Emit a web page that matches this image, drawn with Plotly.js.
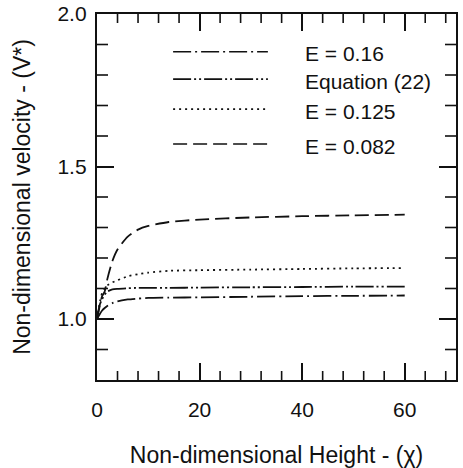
<!DOCTYPE html>
<html>
<head>
<meta charset="utf-8">
<script src="https://cdn.plot.ly/plotly-3.0.1.min.js"></script>
<style>html,body{margin:0;padding:0;background:#fff;}#chart{width:463px;height:468px;}</style>
</head>
<body>
<div id="chart"></div>
<script>
// Non-dimensional height (chi)
const heights = [0, 0.5, 1, 1.5, 2, 3, 4, 6, 8, 10, 14, 20, 30, 40, 50, 60];
// Non-dimensional velocity V*
const vE016  = [1.0, 1.015, 1.028, 1.036, 1.043, 1.052, 1.058, 1.064, 1.067, 1.069, 1.070, 1.071, 1.073, 1.075, 1.076, 1.077];
const vEq22  = [1.0, 1.045, 1.065, 1.080, 1.090, 1.097, 1.099, 1.101, 1.102, 1.102, 1.102, 1.103, 1.104, 1.105, 1.106, 1.106];
const vE0125 = [1.0, 1.050, 1.085, 1.100, 1.110, 1.120, 1.127, 1.140, 1.147, 1.152, 1.158, 1.160, 1.162, 1.164, 1.166, 1.167];
const vE0082 = [1.0, 1.040, 1.075, 1.090, 1.130, 1.190, 1.228, 1.270, 1.293, 1.305, 1.318, 1.326, 1.333, 1.337, 1.340, 1.342];

const seriesNames = ["E = 0.16", "Equation (22)", "E = 0.125", "E = 0.082"];
const seriesValues = [vE016, vEq22, vE0125, vE0082];
const xTickVals = [0, 20, 40, 60];
const xTickText = ["0", "20", "40", "60"];
const xMinorVals = [4, 8, 12, 16, 24, 28, 32, 36, 44, 48, 52, 56, 64, 68];
const yTickVals = [1.0, 1.5, 2.0];
const yTickText = ["1.0", "1.5", "2.0"];
const yMinorVals = [0.9, 1.1, 1.2, 1.3, 1.4, 1.6, 1.7, 1.8, 1.9];

const dashes = ["18px,4px,2px,4px", "18px,3px,2px,3px,2px,3px", "2px,4px", "14px,6px"];
const FONT = "Liberation Sans, Arial, Helvetica, sans-serif";
const W = 463, H = 468, M = {l: 97, r: 7, t: 14, b: 88};
const X_RANGE = [0, 70];
const Y_RANGE = [0.8, 2.0];
const PX_PER_X = (W - M.l - M.r) / (X_RANGE[1] - X_RANGE[0]);
const PX_PER_Y = (H - M.t - M.b) / (Y_RANGE[1] - Y_RANGE[0]);

const traces = seriesValues.map((v, i) => ({
  x: heights, y: v, type: "scatter", mode: "lines", name: seriesNames[i],
  line: {color: "#111", width: 1.8, dash: dashes[i], shape: "spline", smoothing: 0.6},
  showlegend: false, hoverinfo: "skip"
}));

// minor tick marks on all four edges, built from the minor-tick arrays
function minorXTicks(vals, lenPx, width) {
  const d = lenPx / PX_PER_Y;
  const xs = [], ys = [];
  vals.forEach(v => {
    xs.push(v, v, null, v, v, null);
    ys.push(Y_RANGE[0], Y_RANGE[0] + d, null, Y_RANGE[1], Y_RANGE[1] - d, null);
  });
  return {x: xs, y: ys, type: "scatter", mode: "lines", line: {color: "#111", width: width},
    showlegend: false, hoverinfo: "skip"};
}
function minorYTicks(vals, lenPx, width) {
  const d = lenPx / PX_PER_X;
  const xs = [], ys = [];
  vals.forEach(v => {
    xs.push(X_RANGE[0], X_RANGE[0] + d, null, X_RANGE[1], X_RANGE[1] - d, null);
    ys.push(v, v, null, v, v, null);
  });
  return {x: xs, y: ys, type: "scatter", mode: "lines", line: {color: "#111", width: width},
    showlegend: false, hoverinfo: "skip"};
}
traces.push(minorXTicks(xMinorVals, 9, 1.6));
traces.push(minorYTicks(yMinorVals, 11, 1.6));

const shapes = [];
const annotations = [];

// manual legend (inside plot, upper area)
const legRowY = [0.897, 0.822, 0.740, 0.645];
seriesNames.forEach((n, i) => {
  shapes.push({type: "line", xref: "paper", yref: "paper", x0: 0.212, x1: 0.476,
    y0: legRowY[i], y1: legRowY[i], line: {color: "#111", width: 1.6, dash: dashes[i]}});
  annotations.push({xref: "paper", yref: "paper", x: 0.575, y: legRowY[i] - 0.006,
    xanchor: "left", yanchor: "middle", showarrow: false, text: n,
    font: {family: FONT, size: 21, color: "#111"}});
});

const layout = {
  width: W, height: H,
  margin: M,
  paper_bgcolor: "#fff", plot_bgcolor: "#fff",
  font: {family: FONT, color: "#111"},
  showlegend: false,
  xaxis: {
    showline: true, linecolor: "#111", linewidth: 2.2, mirror: "allticks",
    ticks: "inside", ticklen: 17, tickwidth: 2, tickcolor: "#111",
    showgrid: false, zeroline: false,
    tickfont: {family: FONT, size: 21, color: "#111"},
    range: X_RANGE, tickmode: "array", tickvals: xTickVals, ticktext: xTickText,
    ticklabelstandoff: 10,
    title: {text: "Non-dimensional Height - (χ)", font: {family: FONT, size: 23, color: "#111"}, standoff: 36}
  },
  yaxis: {
    showline: true, linecolor: "#111", linewidth: 2.2, mirror: "allticks",
    ticks: "inside", ticklen: 17, tickwidth: 2, tickcolor: "#111",
    showgrid: false, zeroline: false,
    tickfont: {family: FONT, size: 21, color: "#111"},
    range: Y_RANGE, tickmode: "array", tickvals: yTickVals, ticktext: yTickText,
    ticklabelstandoff: 4,
    title: {text: "Non-dimensional velocity - (V*)", font: {family: FONT, size: 23, color: "#111"}, standoff: 20}
  },
  shapes: shapes,
  annotations: annotations
};

Plotly.newPlot("chart", traces, layout, {staticPlot: true, displayModeBar: false});
</script>
</body>
</html>
